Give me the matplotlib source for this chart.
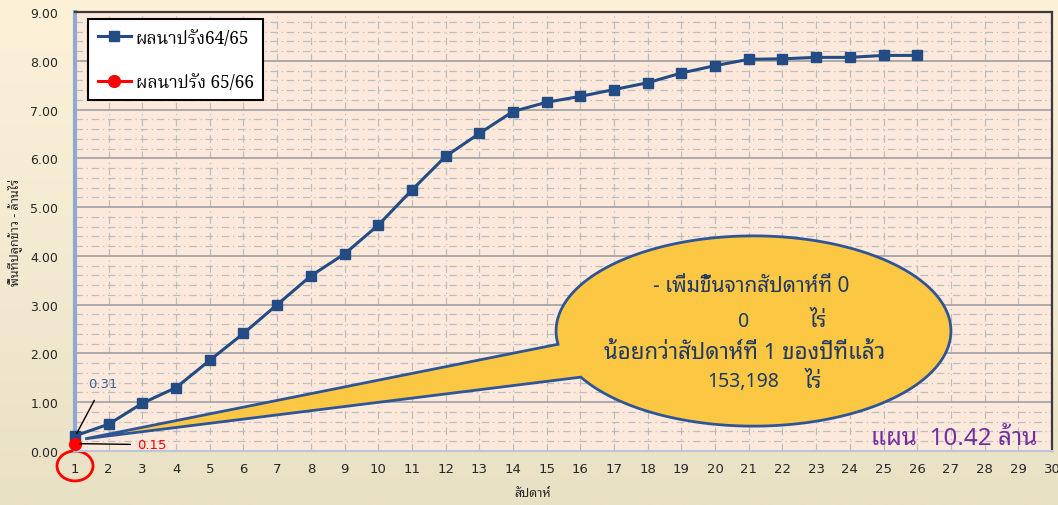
import matplotlib
matplotlib.use("Agg")
import matplotlib.pyplot as plt
import numpy as np
from matplotlib.patches import Polygon, Ellipse
from matplotlib.colors import LinearSegmentedColormap

THAI = ['Noto Sans Thai Looped', 'DejaVu Sans']
THAI_SERIF = ['Noto Serif Thai', 'DejaVu Serif']

# ข้อมูล: พื้นที่ปลูกข้าวนาปรังสะสม (ล้านไร่) รายสัปดาห์
weeks_6465 = list(range(1, 27))
area_6465 = [0.31, 0.55, 0.98, 1.30, 1.86, 2.41, 3.00, 3.59, 4.04, 4.63,
             5.35, 6.04, 6.51, 6.96, 7.15, 7.27, 7.41, 7.55, 7.75, 7.90,
             8.03, 8.04, 8.07, 8.07, 8.11, 8.11]
weeks_6566 = [1]
area_6566 = [0.15]
labels = ['ผลนาปรัง64/65', 'ผลนาปรัง 65/66']

fig = plt.figure(figsize=(10.58, 5.06), dpi=100)

# พื้นหลังไล่สี
bg = fig.add_axes([0, 0, 1, 1], zorder=-10)
grad = np.linspace(0, 1, 256).reshape(-1, 1)
cm_bg = LinearSegmentedColormap.from_list('bg', ['#fdf1d8', '#f3ead2', '#e9e1c4'])
bg.imshow(grad, aspect='auto', cmap=cm_bg, extent=[0, 1, 0, 1])
bg.axis('off')

ax = fig.add_axes([75 / 1058, 1 - 452 / 506, 977 / 1058, 439 / 506])
ax.set_facecolor('#fde9dc')
ax.set_xlim(1, 30)
ax.set_ylim(0, 9)

# เส้นกริด
ax.set_yticks(np.arange(0, 9.01, 1))
ax.set_yticks(np.arange(0, 9.01, 0.2), minor=True)
ax.set_xticks(range(1, 31))
ax.grid(axis='y', which='major', color='#a6a6a6', lw=1.3, ls='-', zorder=0)
ax.grid(axis='y', which='minor', color='#bdbdbd', lw=0.9, ls=(0, (6, 3, 1, 3)), zorder=0)
ax.grid(axis='x', which='major', color='#bdbdbd', lw=0.9, ls=(0, (6, 3, 1, 3)), zorder=0)
ax.set_axisbelow(True)
ax.tick_params(which='both', length=0)
ax.tick_params(axis='y', pad=12, labelsize=9, labelcolor='#262626')
ax.tick_params(axis='x', pad=8, labelsize=9.5, labelcolor='#262626')
ax.yaxis.set_major_formatter(matplotlib.ticker.FormatStrFormatter('%.2f'))

for s in ['top', 'right']:
    ax.spines[s].set_color('#3a3a3a')
    ax.spines[s].set_linewidth(1.6)
ax.spines['left'].set_color('#8eaad2')
ax.spines['left'].set_linewidth(3)
ax.spines['bottom'].set_color('#b9c7da')
ax.spines['bottom'].set_linewidth(1.5)

# กรอบข้อความแบบวงรีมีหาง
cx, cy, rx, ry = 21.14, 2.46, 5.86, 1.95
t = np.radians(np.linspace(209, 548, 300))
pts = list(zip(cx + rx * np.cos(t), cy + ry * np.sin(t)))
pts.append((1.3, 0.25))
callout = Polygon(pts, closed=True, facecolor='#fcc843', edgecolor='#2f5597',
                  lw=2, zorder=3)
ax.add_patch(callout)

txt_kw = dict(family=THAI, color='#1f3864', ha='center', va='center', zorder=5)
ax.text(21.06, 3.39, '- เพิ่มขึ้นจากสัปดาห์ที่ 0', fontsize=15, **txt_kw)
ax.text(20.84, 2.67, '0', fontsize=14, **txt_kw)
ax.text(23.07, 2.67, 'ไร่', fontsize=15, **txt_kw)
ax.text(20.87, 2.01, 'น้อยกว่าสัปดาห์ที่ 1 ของปีที่แล้ว', fontsize=16, **txt_kw)
ax.text(20.84, 1.43, '153,198', fontsize=14, **txt_kw)
ax.text(22.92, 1.43, 'ไร่', fontsize=15, **txt_kw)

# เส้นข้อมูล
ax.plot(weeks_6465, area_6465, marker='s', ms=7.5, lw=2.2, color='#234b84',
        label=labels[0], zorder=6, clip_on=False)
ax.plot(weeks_6566, area_6566, marker='o', ms=8.5, lw=2.2, color='#ff0000',
        label=labels[1], zorder=7, clip_on=False)

# ป้ายค่า
ax.annotate('%.2f' % area_6465[0], xy=(weeks_6465[0] + 0.05, area_6465[0] + 0.05),
            xytext=(1.4, 1.38), color='#3f5f99', fontsize=9.5, va='center',
            arrowprops=dict(arrowstyle='-', color='black', lw=1, shrinkA=6, shrinkB=0),
            zorder=8)
ax.annotate('%.2f' % area_6566[0], xy=(weeks_6566[0] + 0.15, area_6566[0]),
            xytext=(2.85, 0.13), color='#ff0000', fontsize=9.5, va='center',
            arrowprops=dict(arrowstyle='-', color='black', lw=1, shrinkA=3, shrinkB=0),
            zorder=8)

ax.text(29.55, 0.26, 'แผน  10.42 ล้าน', family=THAI, color='#7030a0', fontsize=17.5,
        ha='right', va='center', zorder=8)

# วงกลมแดงที่สัปดาห์ที่ 1
ax.add_patch(Ellipse((0, -0.034), 36 / 977, 30 / 439, transform=ax.transAxes,
                     fill=False, edgecolor='#ff0000', lw=2, clip_on=False))

ax.set_xlabel('สัปดาห์', family=THAI, fontsize=9, color='#262626')
ax.xaxis.set_label_coords(458 / 977, -35 / 439)
ax.set_ylabel('พื้นที่ปลูกข้าว - ล้านไร่', family=THAI, fontsize=9, color='#262626',
              fontweight='bold')
ax.yaxis.set_label_coords(-53 / 977, 0.5)

leg = ax.legend(loc='upper left', bbox_to_anchor=(13 / 977, 432 / 439),
                prop={'family': THAI_SERIF, 'size': 12.5}, borderaxespad=0,
                frameon=True, fancybox=False, edgecolor='black', framealpha=1,
                labelspacing=1.5, handlelength=1.9, borderpad=0.55, handletextpad=0.3)
leg.get_frame().set_linewidth(1.5)
leg.set_zorder(10)

fig.savefig('out.png', dpi=100)
